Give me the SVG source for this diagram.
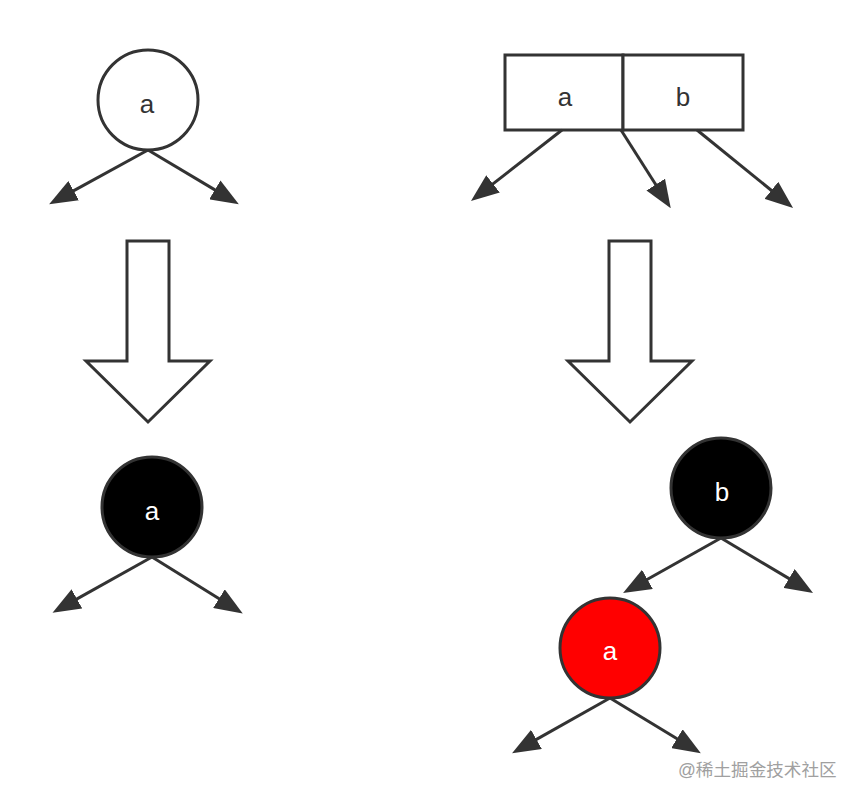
<svg xmlns="http://www.w3.org/2000/svg" width="861" height="802" viewBox="0 0 861 802">
<style>
.node{stroke:#333;stroke-width:3}
.lbl{font-family:"Liberation Sans",Arial,sans-serif;font-size:26px;text-anchor:middle}
.edge{stroke:#333;stroke-width:3;fill:none;marker-end:url(#ah)}
.block{fill:#fff;stroke:#333;stroke-width:3;stroke-linejoin:miter}
.wm{font-family:"Liberation Sans","Noto Sans CJK SC",sans-serif;font-size:17.6px;fill:#a0a0a0}
</style>
<defs>
<marker id="ah" viewBox="0 0 28 22" markerWidth="28" markerHeight="22" refX="5" refY="11" markerUnits="userSpaceOnUse" orient="auto">
<path d="M0,0 L28,11 L0,22 Z" fill="#333"/>
</marker>
</defs>
<rect width="861" height="802" fill="#fff"/>
<g id="top-left-node">
<circle class="node" cx="148" cy="100" r="50" fill="#fff"/>
<text class="lbl" x="147" y="112.5" fill="#333">a</text>
</g>
<g id="top-right-node">
<rect class="node" x="505" y="55" width="118" height="75" fill="#fff"/>
<rect class="node" x="623" y="55" width="120" height="75" fill="#fff"/>
<text class="lbl" x="565" y="106" fill="#333">a</text>
<text class="lbl" x="683" y="106" fill="#333">b</text>
</g>
<g id="block-arrow-left">
<path class="block" d="M127,241 L169,241 L169,361 L210,361 L148,422 L86,361 L127,361 Z"/>
</g>
<g id="block-arrow-right">
<path class="block" d="M609,241 L651,241 L651,361 L692,361 L630,422 L568,361 L609,361 Z"/>
</g>
<g id="bottom-left-node">
<circle class="node" cx="152" cy="507" r="50" fill="#000"/>
<text class="lbl" x="152" y="520" fill="#fff">a</text>
</g>
<g id="node-b">
<circle class="node" cx="721" cy="488" r="50" fill="#000"/>
<text class="lbl" x="722" y="500.5" fill="#fff">b</text>
</g>
<g id="node-a-red">
<circle class="node" cx="610" cy="648" r="50" fill="#f00"/>
<text class="lbl" x="610" y="660" fill="#fff">a</text>
</g>
<g id="connectors">
<line class="edge" x1="148" y1="150" x2="69.3" y2="193.1"/>
<line class="edge" x1="148" y1="150" x2="219.1" y2="192.4"/>
<line class="edge" x1="562" y1="130" x2="489.1" y2="186.9"/>
<line class="edge" x1="621" y1="130" x2="658.4" y2="188.8"/>
<line class="edge" x1="697" y1="130" x2="775.2" y2="193.5"/>
<line class="edge" x1="152" y1="557" x2="72.6" y2="601.4"/>
<line class="edge" x1="152" y1="557" x2="223.2" y2="601.3"/>
<line class="edge" x1="721" y1="538" x2="643.1" y2="581.8"/>
<line class="edge" x1="721" y1="538" x2="793.3" y2="581.1"/>
<line class="edge" x1="610" y1="698" x2="532.1" y2="741.9"/>
<line class="edge" x1="610" y1="698" x2="681.2" y2="741.3"/>
</g>
<text class="wm" x="678" y="776">@稀土掘金技术社区</text>
</svg>
